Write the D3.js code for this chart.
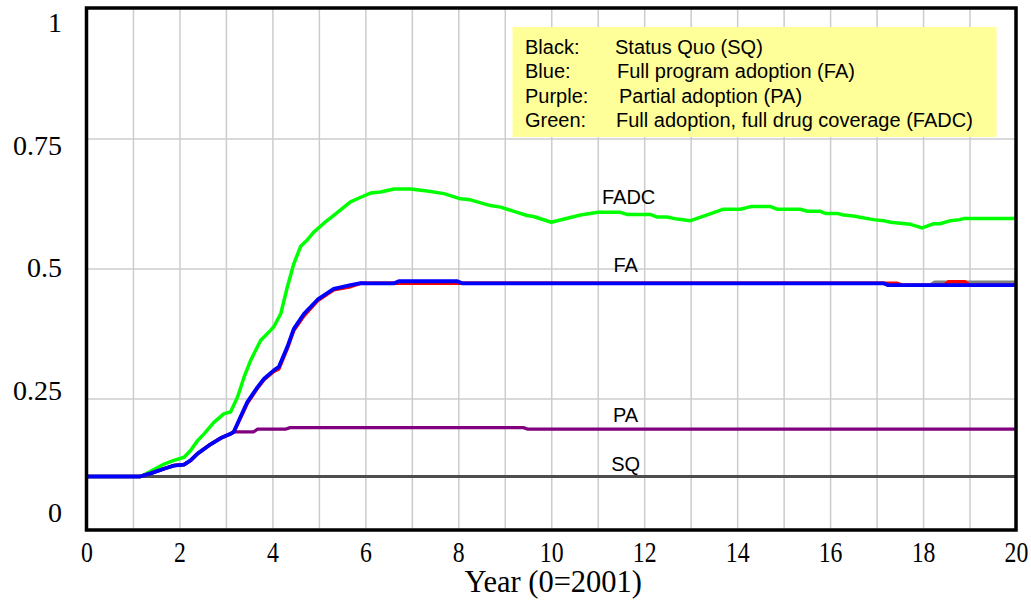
<!DOCTYPE html>
<html><head><meta charset="utf-8">
<script src="https://cdn.jsdelivr.net/npm/d3@7"></script>
<style>body{margin:0;background:#fff}svg{display:block}</style>
</head><body>
<svg id="c" width="1031" height="602"></svg>
<script>
// ---- data ----
const xTicks = [0,2,4,6,8,10,12,14,16,18,20];
const yTicks = [0,0.25,0.5,0.75,1];
const yTickLabels = ["0","0.25","0.5","0.75","1"];
const xTitle = "Year (0=2001)";

const sqT = [0, 20];
const sqV = [0.1, 0.1];

const paT = [0,1.15,1.38,1.67,1.88,2.10,2.24,2.39,2.67,2.89,3.10,3.17,3.60,3.68,4.28,4.38,9.40,9.50,20];
const paV = [0.1,0.1,0.106,0.115,0.121,0.123,0.131,0.144,0.162,0.174,0.182,0.186,0.186,0.191,0.191,0.194,0.194,0.191,0.191];

const fadcT = [0,1.17,1.38,1.67,1.88,2.10,2.24,2.39,2.53,2.74,2.96,3.10,3.25,3.39,3.53,3.75,3.96,4.03,4.18,4.32,4.46,4.61,4.75,4.89,5.12,5.32,5.68,5.90,6.11,6.33,6.62,6.97,7.33,7.69,8.05,8.26,8.69,8.91,9.48,9.62,10.0,10.63,11.01,11.49,11.63,12.13,12.28,12.49,12.71,13.0,13.71,14.07,14.29,14.72,14.86,15.36,15.51,15.79,15.90,16.15,16.29,16.50,16.93,17.15,17.30,17.51,17.73,17.98,18.22,18.37,18.59,18.80,18.87,20];
const fadcV = [0.1,0.1,0.110,0.124,0.131,0.137,0.150,0.169,0.182,0.204,0.221,0.224,0.253,0.291,0.323,0.362,0.381,0.388,0.413,0.464,0.509,0.543,0.555,0.570,0.588,0.602,0.628,0.637,0.645,0.647,0.653,0.653,0.649,0.644,0.634,0.632,0.621,0.618,0.602,0.600,0.589,0.603,0.608,0.608,0.604,0.604,0.599,0.599,0.595,0.592,0.614,0.614,0.619,0.619,0.614,0.614,0.610,0.610,0.606,0.606,0.603,0.601,0.594,0.592,0.589,0.587,0.585,0.578,0.586,0.586,0.592,0.594,0.596,0.596];

const grayT = [6.11,17.15,17.25,18.15,18.25,20];
const grayV = [0.4715,0.4715,0.468,0.468,0.4735,0.4735];

const redT = [0,1.15,1.38,1.67,1.88,2.10,2.24,2.39,2.67,2.89,3.10,3.17,3.31,3.46,3.68,3.82,4.03,4.14,4.32,4.46,4.68,4.97,5.32,5.68,5.90,17.45,17.55,18.45,18.55,18.90,19.00,20];
const redV = [0.1,0.1,0.106,0.115,0.121,0.123,0.131,0.144,0.162,0.174,0.182,0.186,0.212,0.241,0.270,0.286,0.302,0.307,0.346,0.381,0.409,0.438,0.459,0.465,0.4715,0.4715,0.468,0.468,0.4745,0.4745,0.468,0.468];

const faT = [0,1.15,1.38,1.67,1.88,2.10,2.24,2.39,2.67,2.89,3.10,3.17,3.31,3.46,3.68,3.82,4.03,4.14,4.32,4.46,4.68,4.97,5.32,5.68,5.90,6.11,6.62,6.72,7.98,8.08,17.15,17.25,20];
const faV = [0.1,0.1,0.106,0.115,0.121,0.123,0.131,0.144,0.162,0.174,0.182,0.186,0.214,0.243,0.272,0.288,0.304,0.311,0.349,0.384,0.413,0.440,0.461,0.468,0.472,0.4715,0.4715,0.4755,0.4755,0.4715,0.4715,0.468,0.468];

const legendKeys = ["Black:","Blue:","Purple:","Green:"];
const legendTexts = ["Status Quo (SQ)","Full program adoption (FA)","Partial adoption (PA)","Full adoption, full drug coverage (FADC)"];
const seriesLabels = ["FADC","FA","PA","SQ"];
const seriesLabelValues = [0.604,0.4715,0.191,0.1];

// ---- layout ----
const L = 86.5, R = 1016, T = 8.5, B = 528.5;
const svg = d3.select("#c");
const x = d3.scaleLinear().domain([0,20]).range([L,R]);
const y = d3.scaleLinear().domain([0,1]).range([B,T]);
const yLab = d3.scaleLinear().domain([0,1]).range([512,22]);

// gridlines
const gx = svg.append("g").attr("transform",`translate(0,${B})`)
  .call(d3.axisBottom(x).ticks(20).tickSize(-(B-T)).tickFormat(""));
gx.select(".domain").remove();
gx.selectAll("line").attr("stroke","#cccccc").attr("stroke-width",1.5);
const gy = svg.append("g").attr("transform",`translate(${L},0)`)
  .call(d3.axisLeft(y).tickValues([0.25,0.5,0.75]).tickSize(-(R-L)).tickFormat(""));
gy.select(".domain").remove();
gy.selectAll("line").attr("stroke","#cccccc").attr("stroke-width",1.5);

// lines
const line = d3.line().x(d=>x(d[0])).y(d=>y(d[1]));
const zip = (a,b)=>a.map((t,i)=>[t,b[i]]);
const series = [
  {t:sqT,v:sqV,c:"#4d4d4d",w:3},
  {t:paT,v:paV,c:"#800080",w:3.2},
  {t:fadcT,v:fadcV,c:"#00ff00",w:3.5},
  {t:grayT,v:grayV,c:"#808080",w:3.5},
  {t:redT,v:redV,c:"#ff0000",w:3.5},
  {t:faT,v:faV,c:"#0000ff",w:3.8}
];
svg.append("g").selectAll("path").data(series).join("path")
  .attr("d",d=>line(zip(d.t,d.v)))
  .attr("fill","none").attr("stroke",d=>d.c).attr("stroke-width",d=>d.w)
  .attr("stroke-linejoin","round");

// frame
svg.append("rect").attr("x",L).attr("y",T-0.5).attr("width",R-L).attr("height",B-T+2)
  .attr("fill","none").attr("stroke","#000").attr("stroke-width",3.5);

// axis labels
const ax = svg.append("g").attr("transform",`translate(0,${B+30})`)
  .call(d3.axisBottom(x).tickValues(xTicks).tickSize(0).tickPadding(0).tickFormat(d3.format("d")));
ax.select(".domain").remove();
ax.selectAll("text").attr("font-family","Liberation Serif, Times New Roman, serif")
  .attr("font-size",29).attr("fill","#000").attr("dy",0).attr("y",3)
  .attr("transform","scale(0.82,1)");
const ay = svg.append("g").attr("transform",`translate(62,0)`)
  .call(d3.axisLeft(yLab).tickValues(yTicks).tickSize(0).tickPadding(0).tickFormat((d,i)=>yTickLabels[i]));
ay.select(".domain").remove();
ay.selectAll("text").attr("font-family","Liberation Serif, Times New Roman, serif")
  .attr("font-size",28).attr("fill","#000").attr("dy","0.34em");
svg.append("text").attr("x",(L+R)/2+2).attr("y",592).attr("text-anchor","middle")
  .attr("font-family","Liberation Serif, Times New Roman, serif").attr("font-size",30.5)
  .text(xTitle);

// legend
const lg = svg.append("g");
lg.append("rect").attr("x",512.5).attr("y",27).attr("width",484).attr("height",110).attr("fill","#ffff99");
const keyX = 525, txtX = [615,617,619,616], base0 = 54, step = 24.3;
legendKeys.forEach((k,i)=>{
  lg.append("text").attr("x",keyX).attr("y",base0+i*step).attr("font-family","Liberation Sans, Arial, sans-serif").attr("font-size",20).text(k);
  lg.append("text").attr("x",txtX[i]).attr("y",base0+i*step).attr("font-family","Liberation Sans, Arial, sans-serif").attr("font-size",20).text(legendTexts[i]);
});

// series labels
const labOff = [10,11,7,5.5];
seriesLabels.forEach((s,i)=>{
  svg.append("text").attr("x",x(11.6)+(i===0?3:0)).attr("y",y(seriesLabelValues[i])-labOff[i])
    .attr("text-anchor","middle").attr("font-family","Liberation Sans, Arial, sans-serif")
    .attr("font-size",20).text(s);
});
</script>
</body></html>
